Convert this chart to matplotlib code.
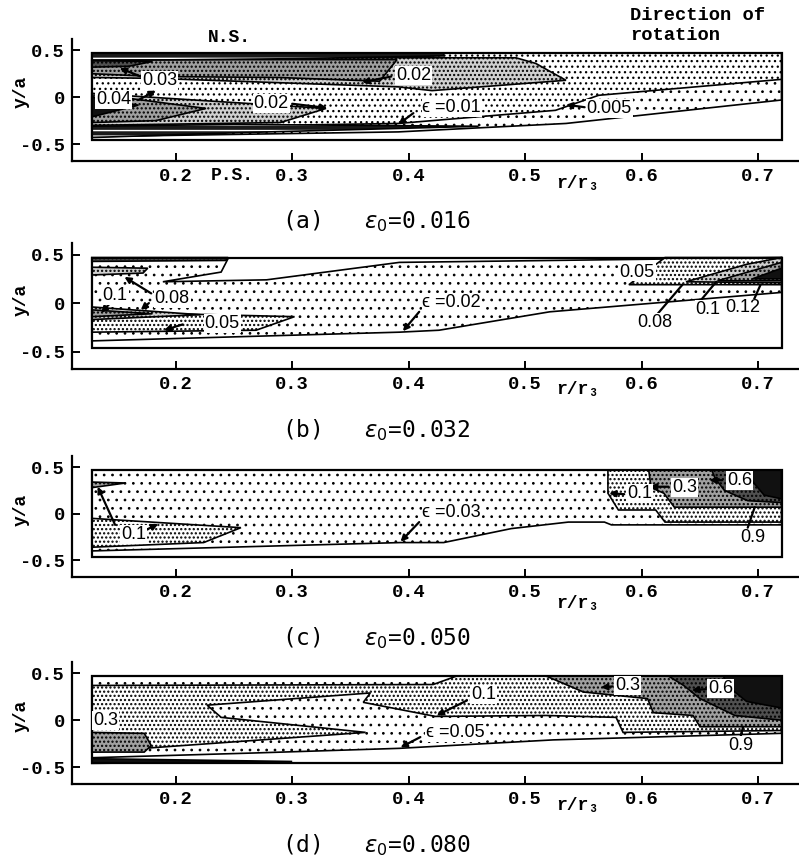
import matplotlib
matplotlib.use('Agg')
import matplotlib.pyplot as plt
from matplotlib.patches import Polygon, Rectangle

plt.rcParams['hatch.linewidth'] = 1.05
plt.rcParams['mathtext.fontset'] = 'dejavusans'

W, H = 799, 860
MONO = ['Liberation Mono', 'DejaVu Sans Mono']
SANS = ['Liberation Sans', 'DejaVu Sans']

# duct outline (r/r3 , y/a)
BOX = (0.128, 0.72, -0.46, 0.47)
XTICKS = [0.2, 0.3, 0.4, 0.5, 0.6, 0.7]
YTICKS = [-0.5, 0.0, 0.5]
YTICKLABELS = ['-0.5', '0', '0.5']

CAPTIONS = ['(a)   $\\epsilon_0$=0.016', '(b)   $\\epsilon_0$=0.032',
            '(c)   $\\epsilon_0$=0.050', '(d)   $\\epsilon_0$=0.080']

# ---- (a) eps0 = 0.016 : regions where eps exceeds each level
a_005 = [(0.128, -0.42), (0.391, -0.37), (0.535, -0.28), (0.72, -0.03), (0.72, 0.47), (0.128, 0.47)]
a_01 = [(0.128, -0.33), (0.391, -0.28), (0.526, -0.14), (0.563, 0.02), (0.72, 0.19), (0.72, 0.47), (0.128, 0.47)]
a_02_up = [(0.128, 0.42), (0.492, 0.42), (0.509, 0.36), (0.535, 0.18), (0.42, 0.07), (0.391, 0.11), (0.183, 0.20), (0.128, 0.21)]
a_02_low = [(0.128, 0.04), (0.329, -0.12), (0.29, -0.27), (0.128, -0.30)]
a_03_up = [(0.128, 0.40), (0.39, 0.40), (0.375, 0.17), (0.288, 0.21), (0.183, 0.22), (0.128, 0.25)]
a_03_low = [(0.128, 0.04), (0.226, -0.12), (0.183, -0.25), (0.128, -0.27)]
a_04 = [(0.128, 0.0), (0.168, -0.085), (0.128, -0.21)]
a_04_up = [(0.128, 0.39), (0.18, 0.38), (0.16, 0.33), (0.128, 0.32)]
a_wall_top = [(0.128, 0.47), (0.43, 0.47), (0.43, 0.44), (0.30, 0.41), (0.128, 0.39)]
a_wall_bot = [(0.128, -0.31), (0.25, -0.29), (0.46, -0.31), (0.25, -0.38), (0.128, -0.43)]
a_labels = [('0.03', 0.186, 0.18), ('0.04', 0.147, -0.03), ('0.02', 0.282, -0.065),
            ('0.02', 0.404, 0.234), ('\u03f5 =0.01', 0.437, -0.11), ('0.005', 0.572, -0.117)]
a_arrows = [((0.17, 0.22), (0.152, 0.31), True), ((0.168, -0.03), (0.183, 0.07), True),
            ((0.30, -0.07), (0.33, -0.115), True), ((0.385, 0.22), (0.36, 0.16), True),
            ((0.404, -0.17), (0.391, -0.29), True), ((0.551, -0.107), (0.535, -0.08), True)]

# ---- (b) eps0 = 0.032
b_02 = [(0.128, -0.39), (0.392, -0.30), (0.426, -0.28), (0.521, -0.09), (0.72, 0.11), (0.72, 0.47),
        (0.392, 0.42), (0.278, 0.24), (0.189, 0.22), (0.239, 0.32), (0.245, 0.46), (0.128, 0.46)]
b_05_low = [(0.128, -0.09), (0.302, -0.14), (0.269, -0.28), (0.128, -0.30)]
b_05_up = [(0.589, 0.19), (0.72, 0.19), (0.72, 0.47), (0.62, 0.47)]
b_08_low = [(0.128, -0.04), (0.221, -0.12), (0.128, -0.17)]
b_08_top = [(0.128, 0.37), (0.176, 0.36), (0.172, 0.31), (0.128, 0.29)]
b_08_up = [(0.638, 0.22), (0.72, 0.21), (0.72, 0.47), (0.69, 0.40)]
b_10_low = [(0.128, -0.07), (0.18, -0.11), (0.128, -0.14)]
b_10_up = [(0.665, 0.23), (0.72, 0.23), (0.72, 0.42)]
b_12_up = [(0.695, 0.25), (0.72, 0.25), (0.72, 0.36)]
b_wall_top = [(0.128, 0.47), (0.245, 0.47), (0.243, 0.44), (0.128, 0.43)]
b_labels = [('0.1', 0.148, 0.08), ('0.08', 0.197, 0.05), ('0.05', 0.24, -0.21),
            ('\u03f5 =0.02', 0.437, 0.01), ('0.05', 0.596, 0.32), ('0.08', 0.611, -0.20),
            ('0.1', 0.657, -0.07), ('0.12', 0.687, -0.05)]
b_arrows = [((0.143, -0.01), (0.136, -0.10), True), ((0.179, 0.10), (0.156, 0.27), True),
            ((0.177, 0.0), (0.17, -0.07), True), ((0.206, -0.22), (0.19, -0.28), True),
            ((0.409, -0.09), (0.395, -0.29), True), ((0.613, -0.12), (0.635, 0.19), False),
            ((0.648, -0.01), (0.664, 0.22), False), ((0.695, 0.0), (0.702, 0.19), False)]

# ---- (c) eps0 = 0.050
c_03 = [(0.128, -0.40), (0.393, -0.31), (0.43, -0.31), (0.488, -0.16), (0.537, -0.09), (0.568, -0.09),
        (0.574, -0.12), (0.72, -0.12), (0.72, 0.47), (0.128, 0.47)]
c_1_low = [(0.128, -0.05), (0.256, -0.15), (0.224, -0.31), (0.128, -0.36)]
c_1_top = [(0.128, 0.34), (0.157, 0.33), (0.128, 0.28)]
c_1_right = [(0.571, 0.47), (0.571, 0.22), (0.58, 0.04), (0.612, 0.04), (0.62, -0.09), (0.72, -0.09), (0.72, 0.47)]
c_3 = [(0.606, 0.47), (0.608, 0.28), (0.619, 0.22), (0.628, 0.07), (0.72, 0.07), (0.72, 0.47)]
c_6 = [(0.66, 0.47), (0.663, 0.38), (0.671, 0.25), (0.691, 0.14), (0.72, 0.12), (0.72, 0.47)]
c_9 = [(0.69, 0.47), (0.72, 0.47), (0.72, 0.16), (0.705, 0.2), (0.695, 0.35)]
c_labels = [('0.1', 0.164, -0.22), ('0.1', 0.598, 0.22), ('0.3', 0.637, 0.28),
            ('0.6', 0.684, 0.36), ('0.9', 0.695, -0.26), ('\u03f5 =0.03', 0.437, 0.01)]
c_arrows = [((0.148, -0.12), (0.133, 0.29), True), ((0.172, -0.19), (0.185, -0.11), True),
            ((0.585, 0.21), (0.572, 0.22), True), ((0.623, 0.29), (0.607, 0.29), True),
            ((0.669, 0.36), (0.658, 0.36), True), ((0.691, -0.15), (0.697, 0.07), False),
            ((0.409, -0.09), (0.393, -0.30), True)]

# ---- (d) eps0 = 0.080
d_05 = [(0.128, -0.40), (0.266, -0.35), (0.392, -0.30), (0.524, -0.21), (0.72, -0.14), (0.72, 0.47), (0.128, 0.47)]
d_1 = [(0.128, 0.37), (0.128, -0.34), (0.363, -0.13), (0.239, 0.03), (0.227, 0.16), (0.367, 0.29),
       (0.361, 0.19), (0.423, 0.04), (0.518, 0.05), (0.578, 0.03), (0.584, -0.13), (0.72, -0.11),
       (0.72, 0.47), (0.441, 0.47), (0.421, 0.38)]
d_3_low = [(0.128, -0.13), (0.173, -0.14), (0.179, -0.27), (0.173, -0.34), (0.128, -0.34)]
d_3 = [(0.518, 0.47), (0.55, 0.30), (0.605, 0.23), (0.61, 0.08), (0.644, 0.05), (0.65, -0.07), (0.72, -0.07), (0.72, 0.47)]
d_6 = [(0.623, 0.47), (0.636, 0.37), (0.65, 0.23), (0.68, 0.05), (0.72, 0.0), (0.72, 0.47)]
d_9 = [(0.67, 0.47), (0.72, 0.47), (0.72, 0.13), (0.69, 0.2), (0.675, 0.35)]
d_wall_bot = [(0.128, -0.41), (0.30, -0.44), (0.128, -0.46)]
d_labels = [('0.3', 0.14, 0.0), ('0.1', 0.464, 0.27), ('\u03f5 =0.05', 0.44, -0.13),
            ('0.3', 0.588, 0.37), ('0.6', 0.668, 0.34), ('0.9', 0.685, -0.27)]
d_arrows = [((0.133, -0.04), (0.129, -0.11), True), ((0.45, 0.21), (0.424, 0.05), True),
            ((0.41, -0.18), (0.393, -0.29), True), ((0.575, 0.36), (0.565, 0.35), True),
            ((0.655, 0.33), (0.643, 0.32), True), ((0.685, -0.17), (0.687, -0.07), False)]

# fill styles: (face colour, hatch, hatch line width)
STY = {'sparse': ('white', '..', 0.75), 'medium': ('white', '...', 0.9), 'fine': ('white', '....', 1.05),
       'light': ('#d0d0d0', '....', 1.05), 'gray': ('#a0a0a0', '....', 1.05), 'dark': ('#505050', '....', 1.05),
       'black': ('#111111', None, 1.0), 'wall': ('#1a1a1a', '---', 1.0)}

panels = [
    [(a_005, 'sparse'), (a_01, 'medium'), (a_02_up, 'light'), (a_02_low, 'light'), (a_03_up, 'gray'),
     (a_03_low, 'gray'), (a_04, 'black'), (a_04_up, 'dark'), (a_wall_top, 'wall'), (a_wall_bot, 'wall')],
    [(b_02, 'sparse'), (b_05_low, 'fine'), (b_05_up, 'fine'), (b_08_low, 'light'), (b_08_top, 'light'),
     (b_08_up, 'light'), (b_10_low, 'gray'), (b_10_up, 'gray'), (b_12_up, 'black'), (b_wall_top, 'dark')],
    [(c_03, 'sparse'), (c_1_low, 'fine'), (c_1_top, 'gray'), (c_1_right, 'fine'), (c_3, 'gray'),
     (c_6, 'dark'), (c_9, 'black')],
    [(d_05, 'sparse'), (d_1, 'fine'), (d_3_low, 'gray'), (d_3, 'gray'), (d_6, 'dark'), (d_9, 'black'),
     (d_wall_bot, 'black')],
]
labels = [a_labels, b_labels, c_labels, d_labels]
arrows = [a_arrows, b_arrows, c_arrows, d_arrows]

# axes placement in pixels: (bottom, height)
AX_PX = [(161, 122), (369, 126), (577, 121), (784, 122)]
TICKLAB_Y = [175, 382, 595, 797]
YLAB_Y = [92, 300, 510, 716]
CAP_Y = [221, 430, 638, 845]

fig = plt.figure(figsize=(W / 100, H / 100), dpi=100)

def fx(px): return px / W
def fy(py): return 1 - py / H

for i in range(4):
    bot, hgt = AX_PX[i]
    ax = fig.add_axes([fx(72), fy(bot), 1 - fx(72), hgt / H])
    ax.set_xlim(0.111, 0.735)
    ax.set_ylim(-0.68, 0.62)
    for s in ['top', 'right']:
        ax.spines[s].set_visible(False)
    for s in ['left', 'bottom']:
        ax.spines[s].set_linewidth(1.6)
    ax.set_xticks(XTICKS)
    ax.set_xticklabels(['%.1f' % v for v in XTICKS])
    ax.set_yticks(YTICKS)
    ax.set_yticklabels(YTICKLABELS)
    ax.tick_params(direction='in', length=6, width=1.4, pad=5)
    for t in ax.get_xticklabels() + ax.get_yticklabels():
        t.set_family(MONO); t.set_fontsize(13.5); t.set_fontweight('bold')

    for pts, sty in panels[i]:
        fc, hatch, hlw = STY[sty]
        ax.add_patch(Polygon(pts, closed=True, fc=fc, ec='none', lw=0))
        if hatch:
            hc = 'white' if sty == 'wall' else 'black'
            with plt.rc_context({'hatch.linewidth': hlw}):
                ax.add_patch(Polygon(pts, closed=True, fc='none', ec=hc, lw=0, hatch=hatch))
        ax.add_patch(Polygon(pts, closed=True, fc='none', ec='black', lw=1.2))
    x0, x1, y0, y1 = BOX
    ax.add_patch(Rectangle((x0, y0), x1 - x0, y1 - y0, fc='none', ec='black', lw=1.6))

    for (xs, ys), (xe, ye), head in arrows[i]:
        ax.annotate('', xy=(xe, ye), xytext=(xs, ys),
                    arrowprops=dict(arrowstyle='-|>' if head else '-', color='black',
                                    lw=1.6, mutation_scale=9, shrinkA=0, shrinkB=0))
    for txt, x, y in labels[i]:
        ax.text(x, y, txt, ha='center', va='center', fontsize=13, family=SANS,
                bbox=dict(fc='white', ec='none', pad=0.6))

    fig.text(fx(21), fy(YLAB_Y[i]), 'y/a', rotation=90, ha='center', va='center',
             family=MONO, fontsize=13, fontweight='bold')
    fig.text(fx(578), fy(TICKLAB_Y[i] + 8), 'r/r\u2083', ha='center', va='center',
             family=MONO, fontsize=13, fontweight='bold')
    fig.text(fx(282), fy(CAP_Y[i]), CAPTIONS[i], ha='left', va='center',
             family=['DejaVu Sans Mono'], fontsize=16.5)

fig.text(fx(229), fy(37), 'N.S.', ha='center', va='center', family=MONO, fontsize=13, fontweight='bold')
fig.text(fx(232), fy(176), 'P.S.', ha='center', va='center', family=MONO, fontsize=13, fontweight='bold')
fig.text(fx(630), fy(16), 'Direction of', ha='left', va='center', family=MONO, fontsize=13.5, fontweight='bold')
fig.text(fx(630), fy(36), 'rotation', ha='left', va='center', family=MONO, fontsize=13.5, fontweight='bold')

fig.savefig('out.png', dpi=100)
